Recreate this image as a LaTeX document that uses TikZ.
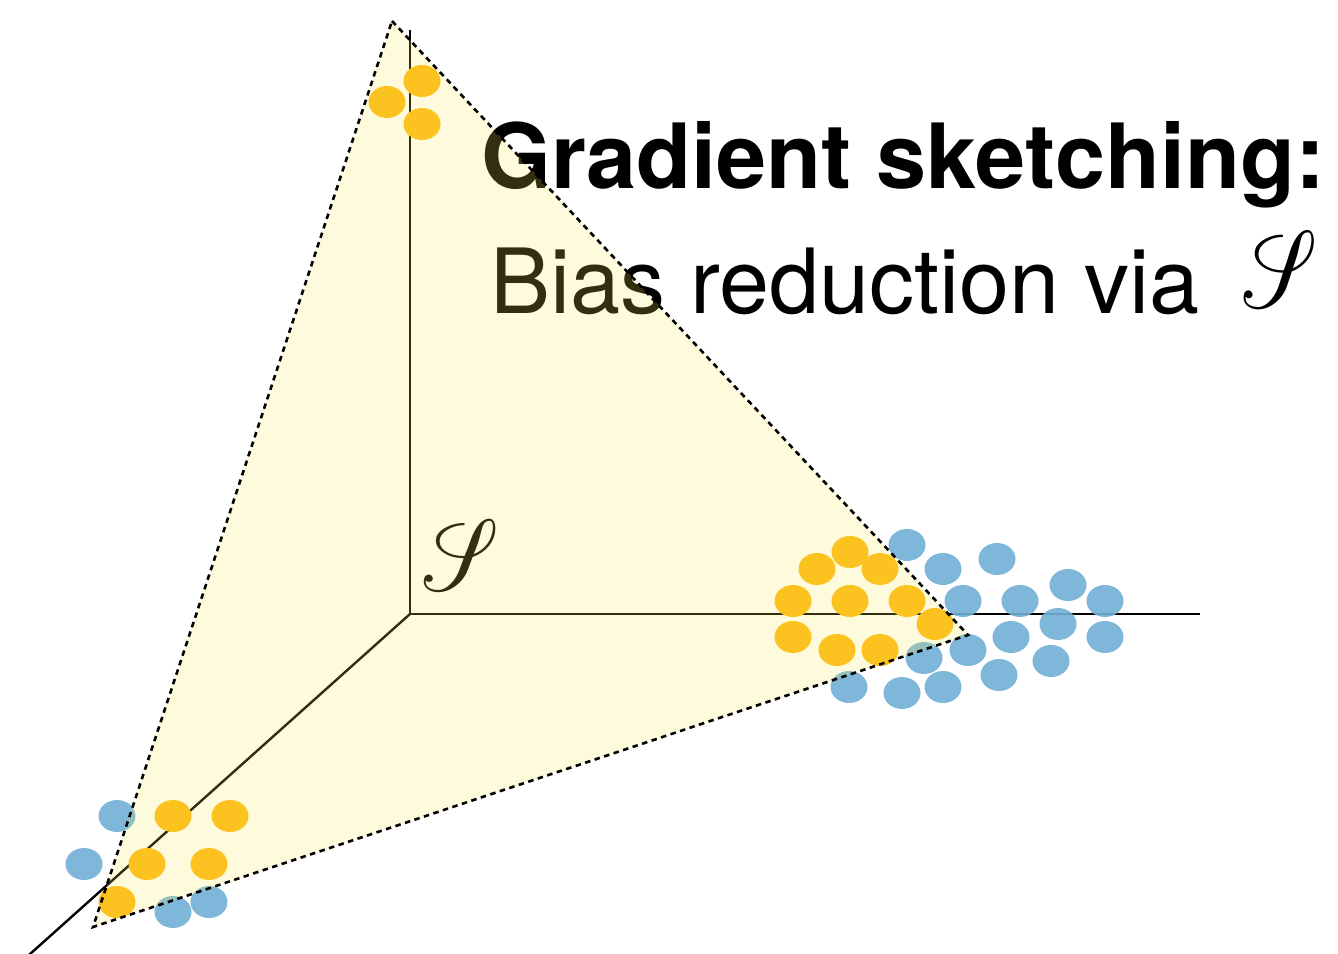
\documentclass[tikz,border=0pt]{standalone}
\usepackage{fontspec}
\setsansfont{TeX Gyre Heros}
\DeclareFontFamily{U}{myrsfs}{\skewchar\font127 }
\DeclareFontShape{U}{myrsfs}{m}{n}{<-> rsfs10}{}
\DeclareMathAlphabet{\myscr}{U}{myrsfs}{m}{n}
\usetikzlibrary{shapes.geometric}
\definecolor{dotorange}{RGB}{253,185,19}
\definecolor{dotblue}{RGB}{113,176,214}
\definecolor{planefill}{RGB}{250,230,80}
\tikzset{
  axis/.style={line width=2.4pt, black},
  odot/.style={ellipse, fill=dotorange, inner sep=0pt, minimum width=37pt, minimum height=32pt},
  bdot/.style={ellipse, fill=dotblue, fill opacity=0.9, inner sep=0pt, minimum width=37pt, minimum height=32pt},
  plane/.style={fill=planefill, fill opacity=0.2, draw=black, line width=2.6pt, dash pattern=on 5.5pt off 4.5pt},
  title/.style={anchor=base west, inner sep=0pt, font=\sffamily\bfseries\fontsize{90}{100}\selectfont},
  subtitle/.style={anchor=base west, inner sep=0pt, font=\sffamily\fontsize{90}{100}\selectfont},
  scriptS/.style={anchor=base west, inner sep=0pt, font=\fontsize{90}{100}\selectfont, xslant=-0.3, yscale=1.12},
}
\begin{document}
\begin{tikzpicture}[x=1pt, y=-1pt]
\useasboundingbox (0,0) rectangle (1338,953);
\clip (0,0) rectangle (1338,953);
\fill[white] (0,0) rectangle (1338,953);
% axes
\coordinate (O) at (410,614);
\coordinate (Ytop) at (410,30);
\coordinate (Xend) at (1200,614);
\coordinate (Zend) at (20,963);
\draw[axis] (Ytop) -- (O) -- (Xend);
\draw[axis] (O) -- (Zend);
% top cluster
\node[odot] (t1) at (422,81) {};
\node[odot] (t2) at (387,102) {};
\node[odot] (t3) at (422,124) {};
% right cluster orange
\node[odot] (r1) at (850,552) {};
\node[odot] (r2) at (817,569) {};
\node[odot] (r3) at (880,569) {};
\node[odot] (r4) at (793,601) {};
\node[odot] (r5) at (850,601) {};
\node[odot] (r6) at (907,601) {};
\node[odot] (r7) at (935,624) {};
\node[odot] (r8) at (793,637) {};
\node[odot] (r9) at (837,650) {};
\node[odot] (r10) at (880,650) {};
% right cluster blue
\node[bdot] (b1) at (907,545) {};
\node[bdot] (b2) at (943,569) {};
\node[bdot] (b3) at (997,559) {};
\node[bdot] (b4) at (963,601) {};
\node[bdot] (b5) at (1020,601) {};
\node[bdot] (b6) at (1068,585) {};
\node[bdot] (b7) at (1105,601) {};
\node[bdot] (b8) at (1058,624) {};
\node[bdot] (b9) at (1011,637) {};
\node[bdot] (b10) at (1105,637) {};
\node[bdot] (b11) at (968,650) {};
\node[bdot] (b12) at (924,658) {};
\node[bdot] (b13) at (1051,661) {};
\node[bdot] (b14) at (999,675) {};
\node[bdot] (b15) at (943,687) {};
\node[bdot] (b16) at (902,693) {};
\node[bdot] (b17) at (849,687) {};
% bottom-left cluster
\node[bdot] (l1) at (117,816) {};
\node[bdot] (l2) at (84,864) {};
\node[odot] (l3) at (173,816) {};
\node[odot] (l4) at (230,816) {};
\node[odot] (l5) at (147,864) {};
\node[odot] (l6) at (209,864) {};
\node[odot] (l7) at (117,902) {};
\node[bdot] (l8) at (173,912) {};
\node[bdot] (l9) at (209,902) {};
% labels
\node[scriptS] (slabel) at (423,590) {$\myscr{S}$};
\node[title] (ttl) at (481,188) {Gradient sketching:};
\node[subtitle] (sub) at (490,313) {Bias reduction via};
\node[scriptS, yscale=1.08] (subS) at (1243,307) {$\myscr{S}$};
% plane
\coordinate (A) at (392,21);
\coordinate (B) at (93,927);
\coordinate (C) at (968,635);
\draw[plane] (A) -- (C) -- (B) -- cycle;
\end{tikzpicture}
\end{document}
